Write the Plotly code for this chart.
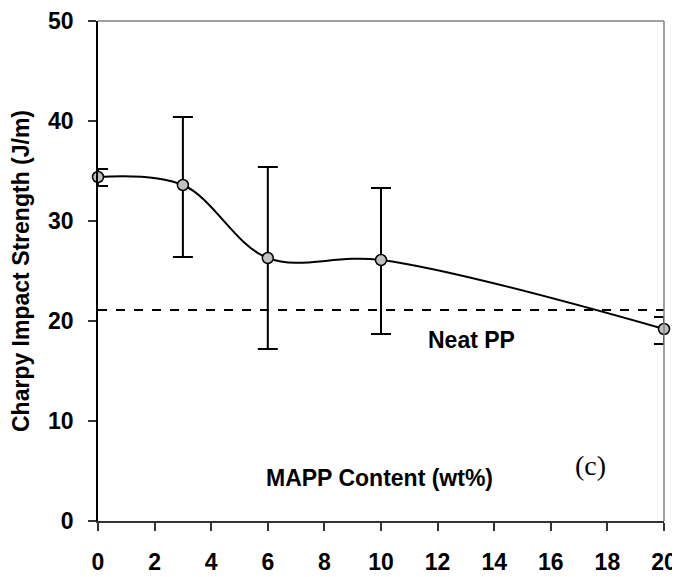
import plotly.graph_objects as go

# Data
mapp_content = [0, 3, 6, 10, 20]
impact_strength = [34.4, 33.6, 26.3, 26.1, 19.2]
err_plus = [0.8, 6.8, 9.1, 7.2, 1.2]
err_minus = [0.9, 7.2, 9.1, 7.4, 1.5]
neat_pp_value = 21.1
x_ticks = [0, 2, 4, 6, 8, 10, 12, 14, 16, 18, 20]
y_ticks = [0, 10, 20, 30, 40, 50]

font_bold = "Liberation Sans"

fig = go.Figure()

# Neat PP dashed reference line
fig.add_trace(go.Scatter(
    x=[x_ticks[0], x_ticks[-1]], y=[neat_pp_value, neat_pp_value],
    mode="lines", line=dict(color="black", width=2, dash="dash"),
    hoverinfo="skip", showlegend=False, cliponaxis=False,
))

fig.add_trace(go.Scatter(
    x=mapp_content, y=impact_strength,
    mode="lines+markers",
    line=dict(color="black", width=2, shape="spline", smoothing=1.0),
    marker=dict(size=11, color="#c0c0c0", line=dict(color="black", width=1.5)),
    error_y=dict(type="data", symmetric=False, array=err_plus, arrayminus=err_minus,
                 color="black", thickness=2, width=10),
    showlegend=False, cliponaxis=False,
))

# page body has an 8px margin, so the figure is sized to fit the window
fig.update_layout(
    width=672, height=569,
    margin=dict(l=90, r=16, t=13, b=56),
    paper_bgcolor="white", plot_bgcolor="white",
    font=dict(family=font_bold, size=23, color="black"),
    showlegend=False,
    xaxis=dict(
        range=[0, 20], tickvals=x_ticks, ticktext=[str(v) for v in x_ticks],
        showgrid=False, zeroline=False, automargin=False,
        showline=True, linecolor="#333333", linewidth=2,
        ticks="outside", ticklen=8, tickwidth=1.5, tickcolor="#333333",
        tickfont=dict(family=font_bold, size=23, color="black", weight="bold"),
        ticklabelstandoff=11,
    ),
    yaxis=dict(
        range=[0, 50], tickvals=y_ticks,
        showgrid=False, zeroline=False, automargin=False,
        showline=True, linecolor="black", linewidth=1.5,
        ticks="outside", ticklen=8, tickwidth=1.5, tickcolor="#333333",
        tickfont=dict(family=font_bold, size=23, color="black", weight="bold"),
        ticklabelstandoff=10,
        title=dict(text="<b>Charpy Impact Strength (J/m)</b>",
                   font=dict(family=font_bold, size=23, color="black"), standoff=13),
    ),
)

# top and right grey borders
fig.add_shape(type="line", xref="paper", yref="paper", x0=0, x1=1, y0=1, y1=1,
              line=dict(color="#808080", width=1.5))
fig.add_shape(type="line", xref="paper", yref="paper", x0=1, x1=1, y0=0, y1=1,
              line=dict(color="#808080", width=1.5))

fig.add_annotation(x=13.2, y=18.1,
                   text="<b>Neat PP</b>", showarrow=False,
                   font=dict(family=font_bold, size=23, color="black"))
fig.add_annotation(xref="paper", yref="paper", x=0.498, y=0.056,
                   text="<b>MAPP Content (wt%)</b>", showarrow=False,
                   font=dict(family=font_bold, size=23, color="black"))
fig.add_annotation(xref="paper", yref="paper", x=0.901, y=0.076,
                   text="(c)", showarrow=False,
                   font=dict(family="Liberation Serif", size=28, color="black"))

fig.write_html("out.html")
